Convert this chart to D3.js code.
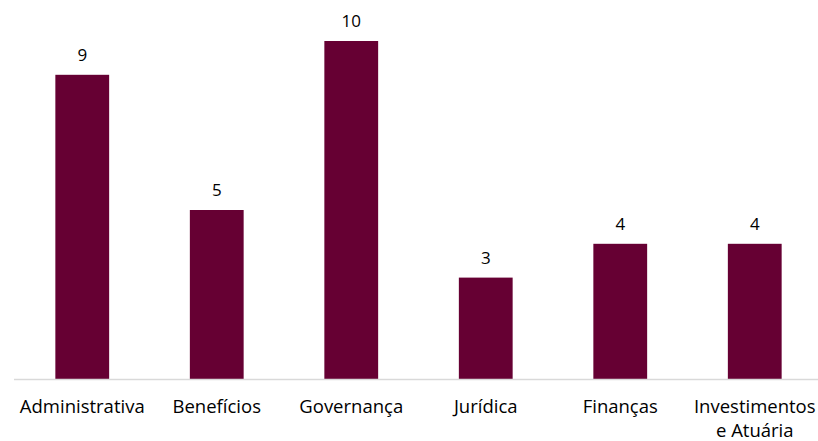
<!DOCTYPE html>
<html>
<head>
<meta charset="utf-8">
<script src="https://cdn.jsdelivr.net/npm/d3@7"></script>
<style>
  body { margin: 0; background: #fff; }
  text { font-family: "Open Sans", "Noto Sans", sans-serif; fill: #000; }
</style>
</head>
<body>
<div id="viz"></div>
<script>
// data
const categories = ["Administrativa", "Benefícios", "Governança", "Jurídica", "Finanças", "Investimentos\ne Atuária"];
const values = [9, 5, 10, 3, 4, 4];

const data = categories.map((c, i) => ({ category: c, value: values[i] }));

// dimensions
const dms = { width: 818, height: 441, left: 15, right: 822, top: 41, bottom: 379 };

const svg = d3.select("#viz")
  .append("svg")
    .attr("width", dms.width)
    .attr("height", dms.height);

// scales
const x = d3.scaleBand()
  .domain(categories)
  .range([dms.left, dms.right])
  .paddingInner(0.6)
  .paddingOuter(0.3);

const y = d3.scaleLinear()
  .domain([0, 10])
  .range([dms.bottom, dms.top]);

// bars
svg.selectAll("rect.bar")
  .data(data)
  .enter()
  .append("rect")
    .attr("class", "bar")
    .attr("x", d => x(d.category))
    .attr("y", d => y(d.value))
    .attr("width", x.bandwidth())
    .attr("height", d => y(0) - y(d.value))
    .attr("fill", "#660033");

// baseline
svg.append("line")
  .attr("x1", dms.left - 1)
  .attr("x2", dms.width)
  .attr("y1", y(0) + 0.5)
  .attr("y2", y(0) + 0.5)
  .attr("stroke", "#d9d9d9")
  .attr("stroke-width", 1.5);

// value labels
svg.selectAll("text.value")
  .data(data)
  .enter()
  .append("text")
    .attr("class", "value")
    .attr("x", d => x(d.category) + x.bandwidth() / 2)
    .attr("y", d => y(d.value) - 14)
    .attr("text-anchor", "middle")
    .style("font-size", "17px")
    .text(d => d.value);

// category labels
const labels = svg.selectAll("text.cat")
  .data(categories)
  .enter()
  .append("text")
    .attr("class", "cat")
    .attr("text-anchor", "middle")
    .attr("y", 413)
    .style("font-size", "18.5px");

labels.selectAll("tspan")
  .data(d => d.split("\n").map(line => ({ line, key: d })))
  .enter()
  .append("tspan")
    .attr("x", d => x(d.key) + x.bandwidth() / 2)
    .attr("dy", (d, i) => i === 0 ? 0 : 24)
    .text(d => d.line);
</script>
</body>
</html>
